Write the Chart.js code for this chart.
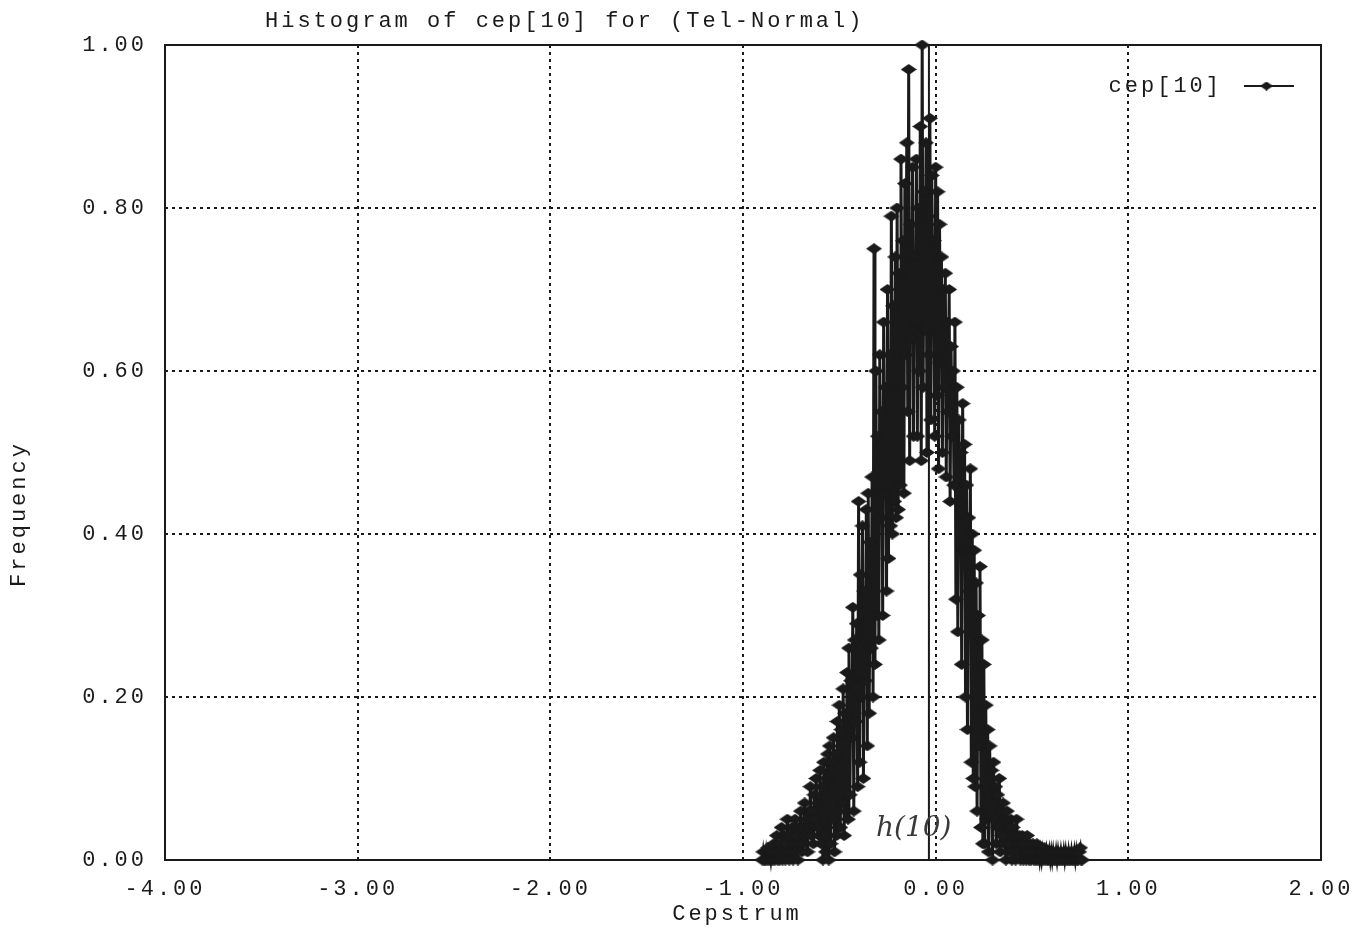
<!DOCTYPE html>
<html>
<head>
<meta charset="utf-8">
<title>Histogram of cep[10]</title>
<script src="https://cdn.jsdelivr.net/npm/chart.js@4.4.1/dist/chart.umd.min.js"></script>
<style>
  html, body { margin: 0; padding: 0; background: #fff; }
  #wrap { width: 1370px; height: 933px; position: relative; }
</style>
</head>
<body>
<div id="wrap"><canvas id="histo"></canvas></div>
<script>
// ===== DATA =====
const binCentres = [
  -0.900, -0.895, -0.890, -0.885, -0.880, -0.875, -0.870, -0.865, -0.860, -0.855,
  -0.850, -0.845, -0.840, -0.835, -0.830, -0.825, -0.820, -0.815, -0.810, -0.805,
  -0.800, -0.795, -0.790, -0.785, -0.780, -0.775, -0.770, -0.765, -0.760, -0.755,
  -0.750, -0.745, -0.740, -0.735, -0.730, -0.725, -0.720, -0.715, -0.710, -0.705,
  -0.700, -0.695, -0.690, -0.685, -0.680, -0.675, -0.670, -0.665, -0.660, -0.655,
  -0.650, -0.645, -0.640, -0.635, -0.630, -0.625, -0.620, -0.615, -0.610, -0.605,
  -0.600, -0.595, -0.590, -0.585, -0.580, -0.575, -0.570, -0.565, -0.560, -0.555,
  -0.550, -0.545, -0.540, -0.535, -0.530, -0.525, -0.520, -0.515, -0.510, -0.505,
  -0.500, -0.495, -0.490, -0.485, -0.480, -0.475, -0.470, -0.465, -0.460, -0.455,
  -0.450, -0.445, -0.440, -0.435, -0.430, -0.425, -0.420, -0.415, -0.410, -0.405,
  -0.400, -0.395, -0.390, -0.385, -0.380, -0.375, -0.370, -0.365, -0.360, -0.355,
  -0.350, -0.345, -0.340, -0.335, -0.330, -0.325, -0.320, -0.315, -0.310, -0.305,
  -0.300, -0.295, -0.290, -0.285, -0.280, -0.275, -0.270, -0.265, -0.260, -0.255,
  -0.250, -0.245, -0.240, -0.235, -0.230, -0.225, -0.220, -0.215, -0.210, -0.205,
  -0.200, -0.195, -0.190, -0.185, -0.180, -0.175, -0.170, -0.165, -0.160, -0.155,
  -0.150, -0.145, -0.140, -0.135, -0.130, -0.125, -0.120, -0.115, -0.110, -0.105,
  -0.100, -0.095, -0.090, -0.085, -0.080, -0.075, -0.070, -0.065, -0.060, -0.055,
  -0.050, -0.045, -0.040, -0.035, -0.030, -0.025, -0.020, -0.015, -0.010, -0.005,
   0.000,  0.005,  0.010,  0.015,  0.020,  0.025,  0.030,  0.035,  0.040,  0.045,
   0.050,  0.055,  0.060,  0.065,  0.070,  0.075,  0.080,  0.085,  0.090,  0.095,
   0.100,  0.105,  0.110,  0.115,  0.120,  0.125,  0.130,  0.135,  0.140,  0.145,
   0.150,  0.155,  0.160,  0.165,  0.170,  0.175,  0.180,  0.185,  0.190,  0.195,
   0.200,  0.205,  0.210,  0.215,  0.220,  0.225,  0.230,  0.235,  0.240,  0.245,
   0.250,  0.255,  0.260,  0.265,  0.270,  0.275,  0.280,  0.285,  0.290,  0.295,
   0.300,  0.305,  0.310,  0.315,  0.320,  0.325,  0.330,  0.335,  0.340,  0.345,
   0.350,  0.355,  0.360,  0.365,  0.370,  0.375,  0.380,  0.385,  0.390,  0.395,
   0.400,  0.405,  0.410,  0.415,  0.420,  0.425,  0.430,  0.435,  0.440,  0.445,
   0.450,  0.455,  0.460,  0.465,  0.470,  0.475,  0.480,  0.485,  0.490,  0.495,
   0.500,  0.505,  0.510,  0.515,  0.520,  0.525,  0.530,  0.535,  0.540,  0.545,
   0.550,  0.555,  0.560,  0.565,  0.570,  0.575,  0.580,  0.585,  0.590,  0.595,
   0.600,  0.605,  0.610,  0.615,  0.620,  0.625,  0.630,  0.635,  0.640,  0.645,
   0.650,  0.655,  0.660,  0.665,  0.670,  0.675,  0.680,  0.685,  0.690,  0.695,
   0.700,  0.705,  0.710,  0.715,  0.720,  0.725,  0.730,  0.735,  0.740,  0.745,
   0.750,  0.755,  0.760
];
const frequency = [
  0.00, 0.01, 0.00, 0.00, 0.01, 0.00, 0.015, 0.00, 0.01, 0.00,
  0.01, 0.00, 0.02, 0.00, 0.01, 0.03, 0.00, 0.01, 0.00, 0.02,
  0.04, 0.00, 0.01, 0.03, 0.00, 0.02, 0.05, 0.01, 0.00, 0.03,
  0.01, 0.04, 0.00, 0.02, 0.05, 0.01, 0.03, 0.00, 0.04, 0.02,
  0.06, 0.01, 0.04, 0.02, 0.07, 0.03, 0.05, 0.01, 0.06, 0.04,
  0.09, 0.03, 0.06, 0.02, 0.08, 0.05, 0.10, 0.04, 0.07, 0.03,
  0.11, 0.02, 0.09, 0.00, 0.12, 0.03, 0.01, 0.10, 0.13, 0.00,
  0.14, 0.02, 0.12, 0.05, 0.15, 0.01, 0.13, 0.03, 0.17, 0.04,
  0.19, 0.04, 0.16, 0.07, 0.21, 0.03, 0.18, 0.06, 0.23, 0.05,
  0.26, 0.08, 0.22, 0.15, 0.31, 0.06, 0.27, 0.17, 0.29, 0.09,
  0.44, 0.12, 0.35, 0.20, 0.41, 0.10, 0.33, 0.22, 0.43, 0.14,
  0.45, 0.18, 0.39, 0.26, 0.47, 0.20, 0.75, 0.24, 0.60, 0.30,
  0.52, 0.27, 0.62, 0.42, 0.55, 0.30, 0.66, 0.45, 0.58, 0.33,
  0.70, 0.37, 0.62, 0.41, 0.79, 0.40, 0.68, 0.44, 0.74, 0.42,
  0.80, 0.43, 0.72, 0.46, 0.86, 0.58, 0.76, 0.45, 0.83, 0.62,
  0.88, 0.55, 0.97, 0.49, 0.78, 0.64, 0.85, 0.52, 0.74, 0.66,
  0.86, 0.52, 0.80, 0.60, 0.90, 0.49, 1.00, 0.58, 0.82, 0.65,
  0.88, 0.50, 0.79, 0.62, 0.91, 0.54, 0.84, 0.70, 0.76, 0.52,
  0.85, 0.57, 0.82, 0.48, 0.78, 0.61, 0.74, 0.50, 0.70, 0.58,
  0.72, 0.47, 0.66, 0.55, 0.70, 0.44, 0.63, 0.52, 0.60, 0.46,
  0.66, 0.32, 0.58, 0.28, 0.54, 0.44, 0.50, 0.24, 0.56, 0.38,
  0.51, 0.20, 0.46, 0.16, 0.42, 0.33, 0.48, 0.12, 0.40, 0.10,
  0.38, 0.09, 0.34, 0.06, 0.30, 0.14, 0.36, 0.04, 0.27, 0.02,
  0.24, 0.02, 0.19, 0.05, 0.16, 0.01, 0.14, 0.08, 0.11, 0.00,
  0.12, 0.05, 0.09, 0.02, 0.08, 0.04, 0.10, 0.01, 0.06, 0.03,
  0.07, 0.02, 0.05, 0.00, 0.06, 0.01, 0.04, 0.02, 0.05, 0.00,
  0.04, 0.01, 0.03, 0.00, 0.05, 0.02, 0.01, 0.03, 0.00, 0.02,
  0.03, 0.00, 0.01, 0.02, 0.00, 0.03, 0.01, 0.00, 0.02, 0.00,
  0.01, 0.02, 0.00, 0.01, 0.00, 0.02, 0.00, 0.01, 0.00, 0.01,
  0.00, 0.01, 0.00, 0.015, 0.00, 0.01, 0.00, 0.00, 0.01, 0.00,
  0.01, 0.00, 0.01, 0.00, 0.00, 0.01, 0.00, 0.01, 0.00, 0.00,
  0.01, 0.00, 0.00, 0.01, 0.00, 0.01, 0.00, 0.00, 0.01, 0.00,
  0.00, 0.01, 0.00, 0.00, 0.01, 0.00, 0.01, 0.00, 0.00, 0.01,
  0.015, 0.00, 0.00
];
const markerX = -0.035;          // pencilled h(10) line
const xTicks = [-4, -3, -2, -1, 0, 1, 2];
const yTicks = [0, 0.2, 0.4, 0.6, 0.8, 1.0];

const INK = '#1a1a1a';
const MONO = '"Liberation Mono", "DejaVu Sans Mono", monospace';

const points = binCentres.map((x, i) => ({ x, y: frequency[i] }));

// flat diamond marker, wider than tall like the old plotter symbol
function diamond(w, h) {
  const c = document.createElement('canvas');
  c.width = w; c.height = h;
  const g = c.getContext('2d');
  g.fillStyle = INK;
  g.beginPath();
  g.moveTo(w / 2, 0); g.lineTo(w, h / 2); g.lineTo(w / 2, h); g.lineTo(0, h / 2);
  g.closePath();
  g.fill();
  return c;
}
const marker = diamond(16, 11);
const legendMark = diamond(13, 9);

// ===== FRAME, TITLES, LEGEND =====
const gnuplotLook = {
  id: 'gnuplotLook',
  beforeDraw(chart) {
    chart.ctx.letterSpacing = '3px';
  },
  beforeDatasetsDraw(chart) {
    const { ctx, chartArea: a } = chart;
    ctx.save();
    ctx.strokeStyle = INK;
    ctx.lineWidth = 2;
    ctx.setLineDash([]);
    ctx.strokeRect(a.left, a.top, a.right - a.left, a.bottom - a.top);
    ctx.restore();
  },
  afterDraw(chart) {
    const { ctx } = chart;
    ctx.save();
    ctx.fillStyle = INK;
    ctx.letterSpacing = '3px';
    ctx.font = '22px ' + MONO;
    ctx.textBaseline = 'middle';

    ctx.textAlign = 'left';
    ctx.fillText('Histogram of cep[10] for (Tel-Normal)', 265, 21);

    ctx.textAlign = 'center';
    ctx.fillText('Cepstrum', 737, 914);

    ctx.save();
    ctx.translate(19, 514);
    ctx.rotate(-Math.PI / 2);
    ctx.fillText('Frequency', 0, 0);
    ctx.restore();

    // legend
    ctx.textAlign = 'right';
    ctx.fillText('cep[10]', 1222, 86);
    ctx.strokeStyle = INK;
    ctx.lineWidth = 2;
    ctx.beginPath();
    ctx.moveTo(1244, 86);
    ctx.lineTo(1294, 86);
    ctx.stroke();
    ctx.drawImage(legendMark, 1260, 81.5);

    // pencil note beside the marker line
    ctx.letterSpacing = '0px';
    ctx.fillStyle = '#3a3a3a';
    ctx.font = 'italic 28px "DejaVu Serif", serif';
    ctx.textAlign = 'left';
    ctx.fillText('h(10)', 876, 829);
    ctx.restore();
  }
};

// ===== CHART =====
new Chart(document.getElementById('histo'), {
  type: 'line',
  data: {
    datasets: [
      {
        label: 'cep[10]',
        data: points,
        borderColor: INK,
        backgroundColor: INK,
        borderWidth: 3,
        pointStyle: marker,
        pointRadius: 5,
        tension: 0,
        clip: false,
      },
      {
        label: 'h(10)',
        data: [{ x: markerX, y: 0 }, { x: markerX, y: 1 }],
        borderColor: INK,
        borderWidth: 2,
        pointRadius: 0,
        clip: false,
      }
    ]
  },
  options: {
    responsive: true,
    maintainAspectRatio: false,
    animation: false,
    layout: { padding: { top: 45, right: 49, left: 0, bottom: 0 } },
    plugins: {
      legend: { display: false },
      title: { display: false },
      tooltip: { enabled: false }
    },
    scales: {
      x: {
        type: 'linear',
        min: -4, max: 2,
        afterFit: s => { s.height = 73; },
        afterBuildTicks: s => { s.ticks = xTicks.map(v => ({ value: v })); },
        ticks: {
          color: INK,
          font: { family: MONO, size: 22 },
          padding: 16,
          maxRotation: 0,
          callback: v => Number(v).toFixed(2)
        },
        grid: { color: INK, lineWidth: 2, tickLength: 0, drawTicks: false },
        border: { display: false, dash: [3, 4] }
      },
      y: {
        type: 'linear',
        min: 0, max: 1,
        afterFit: s => { s.width = 165; },
        afterBuildTicks: s => { s.ticks = yTicks.map(v => ({ value: v })); },
        ticks: {
          color: INK,
          font: { family: MONO, size: 22 },
          padding: 18,
          callback: v => Number(v).toFixed(2)
        },
        grid: { color: INK, lineWidth: 2, tickLength: 0, drawTicks: false },
        border: { display: false, dash: [3, 4] }
      }
    }
  },
  plugins: [gnuplotLook]
});
</script>
</body>
</html>
